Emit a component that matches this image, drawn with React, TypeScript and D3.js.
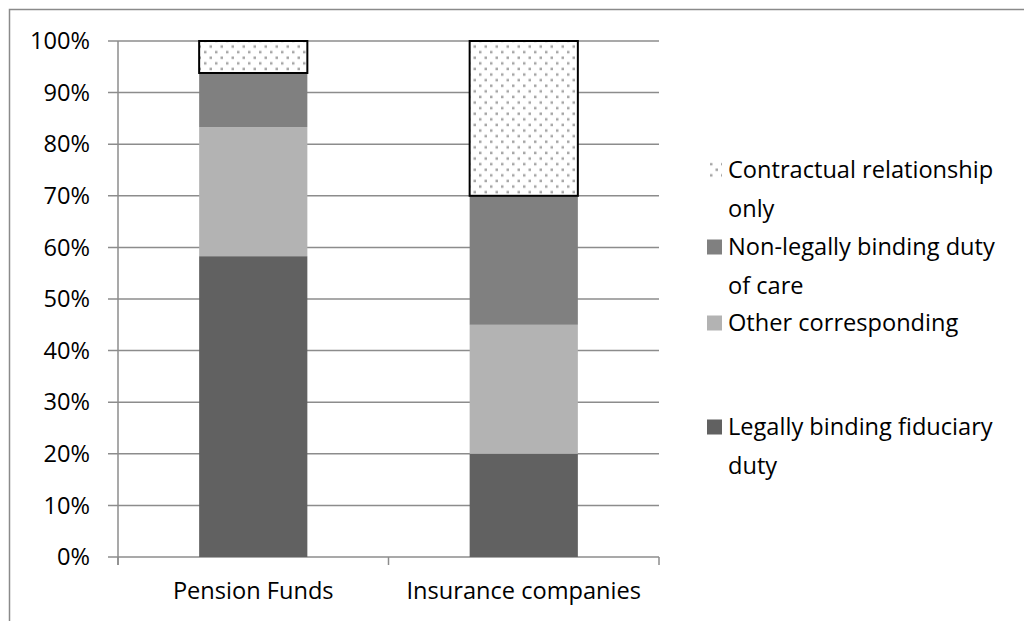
import React from "react";
import * as d3 from "d3";

const categories = ["Pension Funds", "Insurance companies"];
const seriesNames = [
  "Legally binding fiduciary duty",
  "Other corresponding",
  "Non-legally binding duty of care",
  "Contractual relationship only",
];
const legallyBinding = [58.3, 20];
const otherCorresponding = [25.0, 25];
const nonLegallyBinding = [10.5, 25];
const contractualOnly = [6.2, 30];
const yTicks = [0, 10, 20, 30, 40, 50, 60, 70, 80, 90, 100];
const legendLines = [
  ["Contractual relationship", "only"],
  ["Non-legally binding duty", "of care"],
  ["Other corresponding"],
  ["Legally binding fiduciary", "duty"],
];

const colors = ["#616161", "#b3b3b3", "#808080", "url(#dots)"];
const FONT = "'Open Sans', sans-serif";
const FS = 23.6;

export default function App() {
  const W = 1024, H = 621;
  const left = 118, right = 659, top = 41, bottom = 557;
  const x = d3.scaleBand<string>().domain(categories).range([left, right]).paddingInner(0.6).paddingOuter(0.3);
  const xOuter = d3.scaleBand<string>().domain(categories).range([left, right]);
  const y = d3.scaleLinear().domain([0, 100]).range([bottom, top]);

  const table = categories.map((c, i) => ({
    cat: c,
    s0: legallyBinding[i],
    s1: otherCorresponding[i],
    s2: nonLegallyBinding[i],
    s3: contractualOnly[i],
  }));
  const stack = d3.stack<any>().keys(["s0", "s1", "s2", "s3"]);
  const layers = stack(table);

  const gridColor = "#8c8c8c";
  const legendY = [170, 247, 323, 427];
  const lineGap = 39;

  return (
    <svg width={W} height={H} style={{ position: "absolute", left: 0, top: 0, background: "#fff" }}>
      <defs>
        <pattern id="dots" patternUnits="userSpaceOnUse" width={11} height={11.2}>
          <rect width={11} height={11.2} fill="#fff" />
          <rect x={0.5} y={0.5} width={2.5} height={2.5} fill="#a6a6a6" />
          <rect x={6} y={6.1} width={2.5} height={2.5} fill="#a6a6a6" />
        </pattern>
      </defs>
      {/* outer border */}
      <path d={`M9.5,${H + 5} V9.5 H${W + 5}`} fill="none" stroke="#8a8a8a" strokeWidth={1.5} />

      {/* gridlines */}
      {yTicks.map((t) => (
        <line key={t} x1={left - 10} x2={right} y1={y(t)} y2={y(t)} stroke={gridColor} strokeWidth={1.5} />
      ))}
      {/* y axis */}
      <line x1={left} x2={left} y1={top} y2={bottom + 8} stroke={gridColor} strokeWidth={1.5} />
      {/* x ticks */}
      {[...categories.map((c) => xOuter(c)!), right].map((v, i) => (
        <line key={i} x1={v} x2={v} y1={bottom} y2={bottom + 8} stroke={gridColor} strokeWidth={1.5} />
      ))}

      {/* bars */}
      {layers.map((layer, li) =>
        layer.map((d, i) => (
          <rect
            key={`${li}-${i}`}
            x={x(categories[i])}
            width={x.bandwidth()}
            y={y(d[1])}
            height={y(d[0]) - y(d[1])}
            fill={colors[li]}
            stroke={li === 3 ? "#000" : "none"}
            strokeWidth={li === 3 ? 2 : 0}
          />
        ))
      )}

      {/* y labels */}
      {yTicks.map((t) => (
        <text key={t} x={90} y={y(t)} dy="0.35em" textAnchor="end" fontFamily={FONT} fontSize={FS} fill="#000">
          {t}%
        </text>
      ))}
      {/* x labels */}
      {categories.map((c) => (
        <text key={c} x={xOuter(c)! + xOuter.bandwidth() / 2} y={591} dy="0.35em" textAnchor="middle" fontFamily={FONT} fontSize={FS} fill="#000">
          {c}
        </text>
      ))}

      {/* legend */}
      {legendLines.map((lines, i) => {
        const seriesIdx = 3 - i;
        return (
          <g key={i}>
            <rect x={707} y={legendY[i] - 7.5} width={15} height={15} fill={colors[seriesIdx]} />
            <text x={728} y={legendY[i]} fontFamily={FONT} fontSize={FS} fill="#000">
              {lines.map((l, j) => (
                <tspan key={j} x={728} y={legendY[i] + j * lineGap} dy="0.35em">
                  {l}
                </tspan>
              ))}
            </text>
          </g>
        );
      })}
      <title>{seriesNames.join(", ")}</title>
    </svg>
  );
}
